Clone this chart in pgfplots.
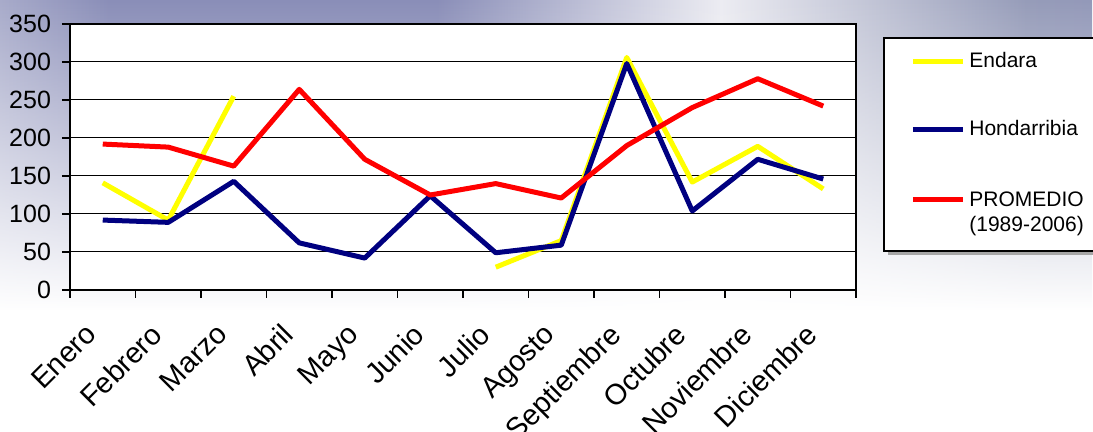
\documentclass[border=0pt]{standalone}
\usepackage{fontspec}
\setmainfont{Liberation Sans}
\usepackage{pgfplots}
\pgfplotsset{compat=1.18}
\usetikzlibrary{fadings}

\definecolor{endara}{RGB}{255,255,0}
\definecolor{hondarribia}{RGB}{0,0,128}
\definecolor{promedio}{RGB}{255,0,0}
\definecolor{bgA}{RGB}{246,246,249}
\definecolor{bgB}{RGB}{138,142,184}
\definecolor{bgC}{RGB}{236,236,242}
\definecolor{bgD}{RGB}{150,156,185}
\definecolor{bgE}{RGB}{226,229,233}

\pgfdeclarehorizontalshading{bgband}{100bp}{color(0bp)=(bgA); color(12bp)=(bgA); color(30bp)=(bgB); color(45bp)=(bgB); color(58bp)=(bgC); color(72bp)=(bgD); color(84bp)=(bgB); color(100bp)=(bgE)}
\tikzfading[name=fade down, top color=transparent!0, bottom color=transparent!100]

\begin{document}
\begin{tikzpicture}[x=1pt,y=1pt]
\clip (-35,-71) rectangle (511.5,145);
\fill[white] (-35,-71) rectangle (511.5,145);
\shade[shading=bgband, path fading=fade down] (-35,-10) rectangle (511.5,145);
% legend box
\fill[black!35] (409,17.5) rectangle (530,124);
\draw[black, line width=0.6pt, fill=white] (407,19.5) rectangle (528,126);
\begin{axis}[
    at={(0,0)}, anchor=south west,
    scale only axis, width=393pt, height=133pt,
    xmin=-0.5, xmax=11.5, ymin=0, ymax=350,
    ytick={0,50,...,350},
    xtick={0,...,11},
    xticklabels={Enero,Febrero,Marzo,Abril,Mayo,Junio,Julio,Agosto,Septiembre,Octubre,Noviembre,Diciembre},
    minor xtick={-0.5,0.5,...,11.5},
    every major x tick/.style={draw=none},
    major tick length=4pt, minor tick length=4pt,
    tick align=outside, xtick pos=bottom, ytick pos=left,
    tick style={black, line width=0.6pt},
    ymajorgrids, major grid style={black, line width=0.5pt},
    axis line style={black, line width=0.7pt},
    axis background/.style={fill=white},
    /pgf/number format/assume math mode=true,
    yticklabel style={font=\fontsize{12.5}{14}\selectfont, xshift=-2pt},
    xticklabel style={font=\fontsize{14.5}{16}\selectfont, xshift=-9.5pt, yshift=-7pt, rotate=45, anchor=north east},
    unbounded coords=jump,
    every axis plot/.append style={line width=2.5pt, line join=round},
    legend image code/.code={\draw[#1] (0pt,0pt) -- (25pt,0pt);},
    legend cell align=left,
    legend style={draw=none, fill=none, at={(1.0687,0.91)}, anchor=north west,
        inner sep=0pt, row sep=21pt,
        font=\fontsize{10.5}{12.5}\selectfont},
]
\addplot[endara] coordinates {
    (0,141) (1,92) (2,255) (3,nan) (4,nan) (5,nan)
    (6,30) (7,65) (8,306) (9,142) (10,189) (11,133)
};
\addlegendentry{Endara}
\addplot[hondarribia] coordinates {
    (0,92) (1,89) (2,143) (3,62) (4,42) (5,124)
    (6,49) (7,59) (8,298) (9,104) (10,172) (11,146)
};
\addlegendentry{Hondarribia}
\addplot[promedio] coordinates {
    (0,192) (1,188) (2,163) (3,264) (4,172) (5,125)
    (6,140) (7,121) (8,190) (9,240) (10,278) (11,242)
};
\addlegendentry{\begin{tabular}[t]{@{}l@{}}PROMEDIO\\(1989-2006)\end{tabular}}
\end{axis}
\end{tikzpicture}
\end{document}
